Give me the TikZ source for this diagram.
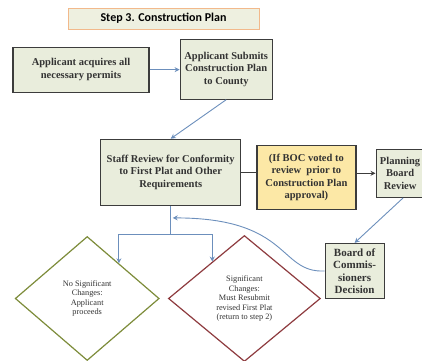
\documentclass[tikz,border=0pt]{standalone}
\usepackage{fontspec}
\setmainfont{Liberation Serif}
\newfontfamily\titlefont{Carlito}
\usepackage{tikz}
\usetikzlibrary{arrows.meta,positioning,shapes.geometric}
\definecolor{planBox}{HTML}{E9EDDC}
\definecolor{planLine}{HTML}{3C3C3C}
\definecolor{planBlue}{HTML}{6C8FBC}
\definecolor{planYellow}{HTML}{FCE8A6}
\definecolor{planPeach}{HTML}{F2B98B}
\definecolor{planTitle}{HTML}{EEF0E0}
\definecolor{planOlive}{HTML}{7D8C3A}
\definecolor{planMaroon}{HTML}{8E3B3F}
\definecolor{planText}{HTML}{333333}
\tikzset{
  box/.style={
    rectangle,
    draw=planLine,
    line width=1.2pt,
    fill=planBox,
    align=center,
    inner sep=1pt,
    text=planText,
    font=\fontsize{10.5}{12.5}\selectfont\bfseries
  },
  notebox/.style={box, fill=planYellow},
  titlebox/.style={
    rectangle,
    draw=planPeach,
    line width=1pt,
    fill=planTitle,
    font=\titlefont\fontsize{12}{13}\selectfont\bfseries
  },
  decision/.style={
    diamond,
    line width=1.2pt,
    fill=white,
    align=center,
    inner sep=0pt,
    text=planText,
    font=\fontsize{8.3}{9.5}\selectfont
  },
  arrow/.style={-{Stealth[length=5pt,width=5pt]}, line width=0.9pt, draw=planBlue},
  link/.style={line width=1.2pt, draw=planLine},
  linkarrow/.style={link, -{Stealth[length=5pt,width=5pt]}}
}

\begin{document}
\begin{tikzpicture}[x=1pt,y=1pt]
  \useasboundingbox (0,0) rectangle (422,-360);

  \node[titlebox, minimum width=191pt, minimum height=21pt] (title) at (163.5,-18.5) {Step 3. Construction Plan};
  \node[box, minimum width=136pt, minimum height=45pt, below=17pt of title, xshift=-82.5pt] (permits) {Applicant acquires all\\necessary permits};
  \node[box, minimum width=92pt, minimum height=60pt, right=30pt of permits, yshift=0.5pt] (submit) {Applicant Submits\\Construction Plan\\to County};
  \node[box, minimum width=140pt, minimum height=66pt, below=39pt of submit, xshift=-55.5pt] (staff) {Staff Review for Conformity\\to First Plat and Other\\Requirements};
  \node[notebox, minimum width=99pt, minimum height=64pt, right=15pt of staff, yshift=-5pt] (boc) {(If BOC voted to\\review~ prior to\\Construction Plan\\approval)};
  \node[box, minimum width=48pt, minimum height=48pt, right=19pt of boc, yshift=4pt] (planning) {Planning\\Board\\Review};
  \node[box, font=\fontsize{11}{12.5}\selectfont\bfseries, minimum width=59pt, minimum height=55pt, below=45pt of planning, xshift=-45.5pt] (board) {Board of\\Commis-\\sioners\\Decision};
  \node[decision, draw=planOlive, minimum width=144pt, minimum height=124pt, below=30pt of staff, xshift=-83.5pt] (nosig) {No Significant\\Changes:\\Applicant\\proceeds};
  \node[decision, draw=planMaroon, minimum width=152pt, minimum height=126pt, right=8pt of nosig] (sig) {Significant\\Changes:\\Must Resubmit\\revised First Plat\\(return to step 2)};

  \draw[arrow] (permits.east) -- (submit.west |- permits.east);
  \draw[arrow] (submit.south) -- (staff.north);
  \draw[link] (staff.east) -- (staff.east -| boc.west);
  \draw[linkarrow] (boc.east |- planning.west) -- (planning.west);
  \draw[arrow] ([xshift=3pt]planning.south) -- (board.north);
  \draw[arrow] (staff.south) -- ++(0,-29) coordinate (split) -| (nosig.48);
  \draw[arrow] (split) -| (sig.131);
  \draw[arrow] (board.west) .. controls +(-46,-2) and +(118,0) .. ([xshift=2pt,yshift=-12pt]staff.south);
\end{tikzpicture}
\end{document}
